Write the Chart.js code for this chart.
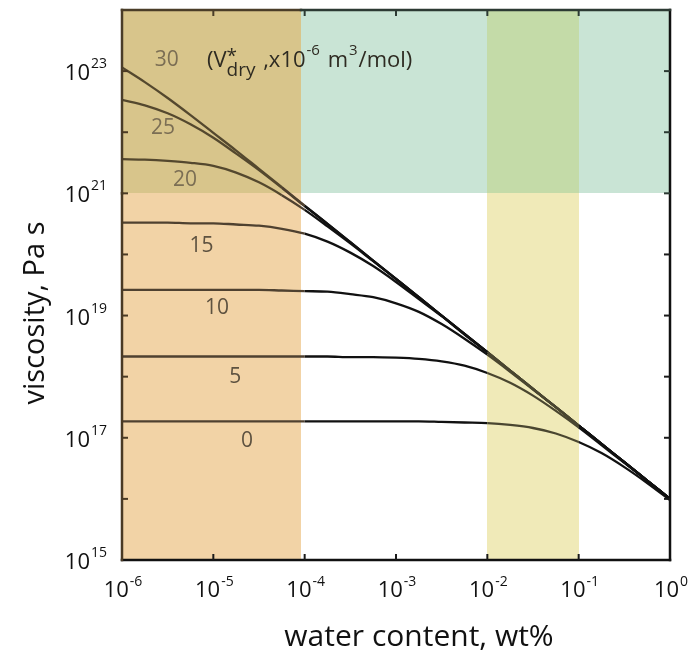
<!DOCTYPE html>
<html><head><meta charset="utf-8">
<script src="https://cdn.jsdelivr.net/npm/chart.js@4.4.1/dist/chart.umd.min.js"></script>
<style>html,body{margin:0;padding:0;background:#fff}#wrap{width:692px;height:656px}</style>
</head><body><div id="wrap"><canvas id="c" width="692" height="656"></canvas></div>
<script>
// water content (wt%) as log10 exponents
const waterExp = [-6,-5.75,-5.5,-5.25,-5,-4.75,-4.5,-4.25,-4,-3.75,-3.5,-3.25,-3,-2.75,-2.5,-2.25,-2,-1.75,-1.5,-1.25,-1,-0.75,-0.5,-0.25,0];
// viscosity (Pa s) as log10 exponents, one list per V*dry curve
const curveNames = ['0','5','10','15','20','25','30'];
const visc0  = [17.27,17.27,17.27,17.27,17.27,17.27,17.27,17.27,17.27,17.27,17.27,17.27,17.27,17.27,17.26,17.25,17.24,17.21,17.16,17.07,16.93,16.75,16.52,16.26,15.98];
const visc5  = [18.33,18.33,18.33,18.33,18.33,18.33,18.33,18.33,18.33,18.33,18.32,18.32,18.31,18.29,18.25,18.18,18.06,17.90,17.69,17.44,17.17,16.88,16.59,16.30,16.00];
const visc10 = [19.42,19.42,19.42,19.42,19.42,19.42,19.42,19.41,19.40,19.39,19.35,19.30,19.20,19.06,18.86,18.62,18.36,18.08,17.79,17.50,17.20,16.90,16.60,16.30,16.00];
const visc15 = [20.52,20.52,20.52,20.51,20.51,20.49,20.47,20.42,20.34,20.21,20.03,19.81,19.55,19.27,18.99,18.69,18.40,18.10,17.80,17.50,17.20,16.90,16.60,16.30,16.00];
const visc20 = [21.56,21.55,21.53,21.50,21.45,21.34,21.18,20.97,20.73,20.46,20.18,19.89,19.60,19.30,19.00,18.70,18.40,18.10,17.80,17.50,17.20,16.90,16.60,16.30,16.00];
const visc25 = [22.53,22.44,22.31,22.13,21.91,21.65,21.38,21.09,20.79,20.50,20.20,19.90,19.60,19.30,19.00,18.70,18.40,18.10,17.80,17.50,17.20,16.90,16.60,16.30,16.00];
const visc30 = [23.06,22.82,22.56,22.28,21.99,21.70,21.40,21.10,20.80,20.50,20.20,19.90,19.60,19.30,19.00,18.70,18.40,18.10,17.80,17.50,17.20,16.90,16.60,16.30,16.00];
const curves = [visc0,visc5,visc10,visc15,visc20,visc25,visc30];
// curve label anchors (log10 x, log10 y)
const labelX = [-4.63,-4.76,-4.96,-5.13,-5.31,-5.55,-5.51];
const labelY = [16.95,17.99,19.12,20.14,21.22,22.07,23.18];
// axis ticks
const xTickExp = [-6,-5,-4,-3,-2,-1,0];
const yLabelExp = [15,17,19,21,23];
const yTickExp = [15,16,17,18,19,20,21,22,23,24];
// shaded ranges
const dryLimitExp = -4.04;   // orange band: x < 10^-4.04
const bandExp = [-2,-1];     // yellow band
const greenYExp = 21;        // green band: y > 10^21

const FONT = '"Open Sans", "Liberation Sans", sans-serif';
const C = {orange:'#f2d3a6', brown:'#d8c58b', green:'#c9e4d5', gy:'#c4dba8', yellow:'#f0eab8'};
const LINE = {orange:'#4f4130', brown:'#54482e', green:'#2d3a33', gy:'#3c4530', yellow:'#4a4630', white:'#111111'};

function regionOf(lx, ly){
  if (lx < dryLimitExp) return ly > greenYExp ? 'brown' : 'orange';
  if (lx > bandExp[0] && lx < bandExp[1]) return ly > greenYExp ? 'gy' : 'yellow';
  if (ly > greenYExp) return 'green';
  return 'white';
}

const datasets = curves.map((arr, di) => ({
  label: curveNames[di],
  data: arr.map((v, i) => ({x: Math.pow(10, waterExp[i]), y: Math.pow(10, v)})),
  borderColor: '#111',
  borderWidth: 2.3,
  pointRadius: 0,
  fill: false,
  cubicInterpolationMode: 'monotone',
  segment: {
    borderColor: ctx => {
      const i = ctx.p0DataIndex, j = ctx.p1DataIndex;
      const mx = (waterExp[i] + waterExp[j]) / 2;
      const my = (arr[i] + arr[j]) / 2;
      return LINE[regionOf(mx, my)];
    }
  }
}));

function supText(ctx, base, exp, x, y, baseSize, supSize, supRise, align){
  ctx.font = baseSize + 'px ' + FONT;
  const wb = ctx.measureText(base).width;
  ctx.font = supSize + 'px ' + FONT;
  const we = ctx.measureText(exp).width;
  let x0 = x;
  if (align === 'center') x0 = x - (wb + we + 1) / 2;
  else if (align === 'right') x0 = x - wb;
  ctx.textAlign = 'left';
  ctx.textBaseline = 'alphabetic';
  ctx.font = baseSize + 'px ' + FONT;
  ctx.fillText(base, x0, y);
  ctx.font = supSize + 'px ' + FONT;
  ctx.fillText(exp, x0 + wb + 1, y - supRise);
}

const decor = {
  id: 'decor',
  beforeDatasetsDraw(chart){
    const ctx = chart.ctx, xs = chart.scales.x, ys = chart.scales.y;
    const px = e => Math.round(xs.getPixelForValue(Math.pow(10, e)));
    const py = e => Math.round(ys.getPixelForValue(Math.pow(10, e)));
    const rects = [
      [-6, dryLimitExp, 15, greenYExp, C.orange],
      [-6, dryLimitExp, greenYExp, 24, C.brown],
      [dryLimitExp, bandExp[0], greenYExp, 24, C.green],
      [bandExp[1], 0, greenYExp, 24, C.green],
      [bandExp[0], bandExp[1], greenYExp, 24, C.gy],
      [bandExp[0], bandExp[1], 15, greenYExp, C.yellow]
    ];
    ctx.save();
    rects.forEach(r => {
      const x0 = px(r[0]), x1 = px(r[1]), y0 = py(r[3]), y1 = py(r[2]);
      ctx.fillStyle = r[4];
      ctx.fillRect(x0, y0, x1 - x0, y1 - y0);
    });
    ctx.restore();
  },
  afterDatasetsDraw(chart){
    const ctx = chart.ctx, xs = chart.scales.x, ys = chart.scales.y, a = chart.chartArea;
    const px = e => xs.getPixelForValue(Math.pow(10, e));
    const py = e => ys.getPixelForValue(Math.pow(10, e));
    ctx.save();
    // curve labels
    ctx.textAlign = 'center';
    ctx.textBaseline = 'middle';
    ctx.font = '21px ' + FONT;
    curveNames.forEach((n, i) => {
      ctx.fillStyle = i >= 4 ? '#7b6e54' : '#5e5240';
      ctx.fillText(n, px(labelX[i]), py(labelY[i]));
    });
    // unit text
    let x = px(-5.07); const by = py(23.07);
    ctx.fillStyle = '#2e2b22';
    ctx.textAlign = 'left';
    ctx.textBaseline = 'alphabetic';
    const big = '22px ' + FONT, mid = '19px ' + FONT, small = '15px ' + FONT;
    ctx.font = big; ctx.fillText('(V', x, by); x += ctx.measureText('(V').width;
    ctx.font = mid; ctx.fillText('*', x, by - 5); const wStar = ctx.measureText('*').width;
    ctx.fillText('dry', x, by + 9); const wDry = ctx.measureText('dry').width;
    x += Math.max(wStar, wDry) + 2;
    ctx.font = big; ctx.fillText(' ,x10', x, by); x += ctx.measureText(' ,x10').width;
    ctx.font = small; ctx.fillText('-6', x + 1, by - 12); x += ctx.measureText('-6').width + 3;
    ctx.font = big; ctx.fillText(' m', x, by); x += ctx.measureText(' m').width;
    ctx.font = small; ctx.fillText('3', x + 1, by - 12); x += ctx.measureText('3').width + 2;
    ctx.font = big; ctx.fillText('/mol)', x, by);

    // frame
    const L = a.left, R = a.right, T = a.top, B = a.bottom;
    ctx.lineWidth = 2.5;
    ctx.lineCap = 'square';
    const seg = (x0,y0,x1,y1,c) => {ctx.strokeStyle = c; ctx.beginPath(); ctx.moveTo(x0,y0); ctx.lineTo(x1,y1); ctx.stroke();};
    seg(L, B, R, B, '#111');
    seg(R, T, R, B, '#111');
    seg(L, T, px(dryLimitExp), T, '#4a3d28');
    seg(px(dryLimitExp), T, R, T, '#2c3a33');
    seg(L, T, L, py(greenYExp), '#4a3d28');
    seg(L, py(greenYExp), L, B, '#4a3a24');
    // ticks
    ctx.lineWidth = 2;
    ctx.lineCap = 'butt';
    const tl = 6;
    xTickExp.forEach(e => {
      if (e === -6 || e === 0) return;
      const X = px(e);
      seg(X, B, X, B - tl, '#1a1a1a');
      seg(X, T, X, T + tl, e <= -5 ? '#4a3d28' : '#2c3a33');
    });
    yTickExp.forEach(e => {
      if (e === 15 || e === 24) return;
      const Y = py(e);
      seg(L, Y, L + tl, Y, '#4a3a24');
      seg(R, Y, R - tl, Y, e >= 21 ? '#2c3a33' : '#1a1a1a');
    });
    ctx.restore();
  },
  afterDraw(chart){
    const ctx = chart.ctx, xs = chart.scales.x, ys = chart.scales.y, a = chart.chartArea;
    ctx.save();
    ctx.fillStyle = '#111';
    xTickExp.forEach(e => {
      supText(ctx, '10', String(e), xs.getPixelForValue(Math.pow(10, e)) + 1, a.bottom + 37, 22, 14, 11, 'center');
    });
    yLabelExp.forEach(e => {
      supText(ctx, '10', String(e), a.left - 32, ys.getPixelForValue(Math.pow(10, e)) + 9, 22, 14, 12, 'right');
    });
    ctx.font = '30px ' + FONT;
    ctx.textAlign = 'center';
    ctx.textBaseline = 'alphabetic';
    ctx.fillText('water content, wt%', 419, 646);
    ctx.save();
    ctx.translate(44, 313);
    ctx.rotate(-Math.PI / 2);
    ctx.font = '29px ' + FONT;
    ctx.fillText('viscosity, Pa s', 0, 0);
    ctx.restore();
    ctx.restore();
  }
};

new Chart(document.getElementById('c'), {
  type: 'line',
  data: {datasets},
  options: {
    responsive: false,
    animation: false,
    layout: {padding: {left: 122, right: 22, top: 10, bottom: 96}},
    scales: {
      x: {type: 'logarithmic', min: 1e-6, max: 1, display: false},
      y: {type: 'logarithmic', min: 1e15, max: 1e24, display: false}
    },
    plugins: {legend: {display: false}, tooltip: {enabled: false}, title: {display: false}}
  },
  plugins: [decor]
});
</script></body></html>
